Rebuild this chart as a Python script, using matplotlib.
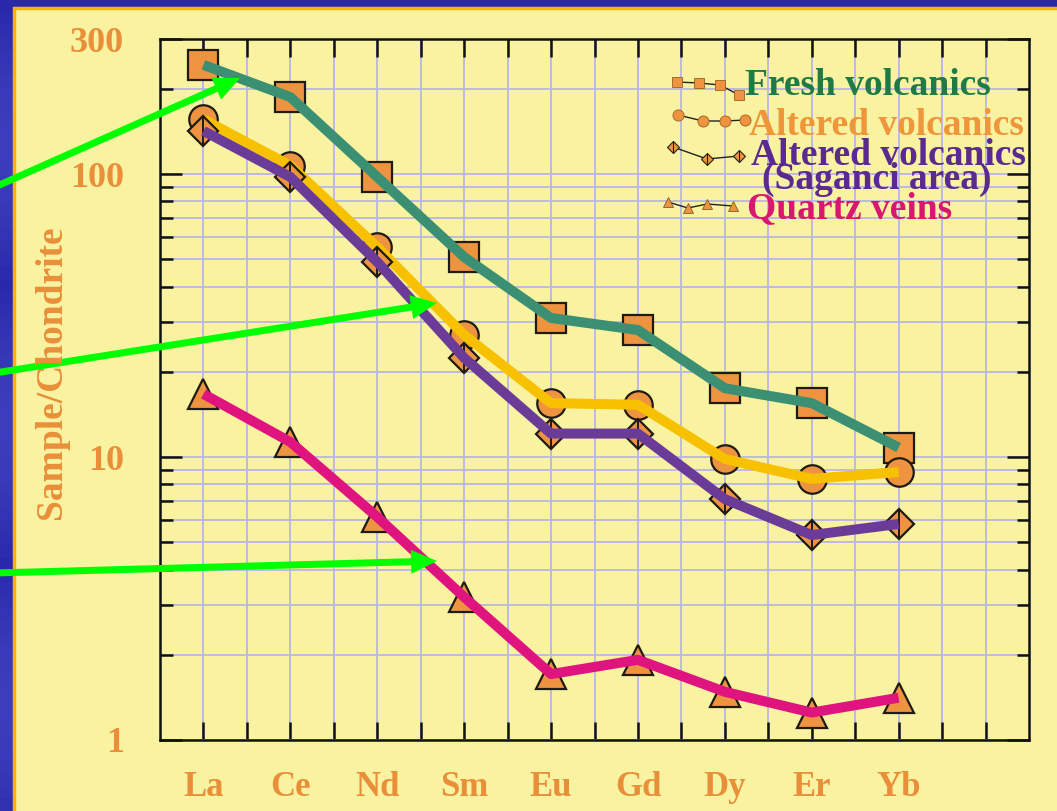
import numpy as np
import matplotlib
matplotlib.use("Agg")
import matplotlib.pyplot as plt
from matplotlib.patches import Rectangle, FancyArrow
from matplotlib.ticker import LogLocator, NullFormatter, FixedLocator, FixedFormatter

# ---------------- data ----------------
elements = ["La", "Ce", "Nd", "Sm", "Eu", "Gd", "Dy", "Er", "Yb"]
fresh_volcanics = [243, 187, 97.6, 50.9, 31.0, 28.1, 17.5, 15.5, 10.8]
altered_volcanics = [156, 107, 55.2, 27.0, 15.5, 15.3, 9.84, 8.37, 8.85]
altered_saganci = [142, 97.6, 48.9, 22.4, 12.1, 12.1, 7.1, 5.3, 5.8]
quartz_veins = [16.7, 11.3, 6.14, 3.2, 1.71, 1.92, 1.48, 1.25, 1.41]
y_tick_values = [1, 10, 100, 300]
y_tick_labels = ["1", "10", "100", "300"]

# ---------------- style ----------------
W, H = 1057, 811
SERIF = ["Liberation Serif", "DejaVu Serif"]
LABEL_ORANGE = "#E98F3A"
MARKER_FACE = "#EE9440"
EDGE = "#1E1A14"
GRID = "#B9B6E6"
PANEL = "#F9F2A0"

fig = plt.figure(figsize=(W / 100, H / 100), dpi=100)

# background (pixel coordinate axes)
bg = fig.add_axes([0, 0, 1, 1], zorder=-5)
bg.set_xlim(0, W)
bg.set_ylim(H, 0)
bg.axis("off")
grad = np.linspace(0, 1, 64).reshape(-1, 1)
bg.imshow(np.dstack([0.16 + 0.08 * np.abs(np.sin(grad * 9)),
                     0.16 + 0.08 * np.abs(np.sin(grad * 9)),
                     0.66 + 0.08 * np.abs(np.sin(grad * 9))]),
          extent=[0, W, H, 0], aspect="auto", zorder=0)
bg.add_patch(Rectangle((14, 8), W, H, facecolor=PANEL,
                       edgecolor="#F2B705", linewidth=2.5, zorder=1))

# ---------------- main axes ----------------
ax = fig.add_axes([160 / W, 71 / H, 869 / W, 701 / H])
ax.set_facecolor("none")
ax.set_yscale("log")
ax.set_ylim(1, 300)
ax.set_xlim(0, 20)

x = np.arange(len(elements)) * 2 + 1

series = [
    (fresh_volcanics, "s", 21.5, "#3B8F72"),
    (altered_volcanics, "o", 20.5, "#F7C100"),
    (altered_saganci, "D", 15, "#6A3C98"),
    (quartz_veins, "^", 21.5, "#E0147F"),
]
z = 3
for vals, mk, ms, col in series:
    ax.plot(x, vals, linestyle="none", marker=mk, markersize=ms,
            markerfacecolor=MARKER_FACE, markeredgecolor=EDGE,
            markeredgewidth=1.6, zorder=z)
    if mk == "D":
        ax.plot(x, vals, linestyle="none", marker="|", markersize=21,
                markeredgecolor=EDGE, markeredgewidth=1.4, zorder=z)
    ax.plot(x, vals, color=col, linewidth=7.2, solid_capstyle="butt",
            solid_joinstyle="round", zorder=z + 1)
    z += 2

# ticks
ax.xaxis.set_major_locator(FixedLocator(x))
ax.xaxis.set_major_formatter(FixedFormatter(elements))
ax.xaxis.set_minor_locator(FixedLocator([v for v in range(1, 20) if v not in x]))
ax.yaxis.set_major_locator(FixedLocator(y_tick_values))
ax.yaxis.set_major_formatter(FixedFormatter(y_tick_labels))
ax.yaxis.set_minor_locator(LogLocator(base=10, subs=np.arange(2, 10)))
ax.yaxis.set_minor_formatter(NullFormatter())

ax.tick_params(axis="x", which="both", direction="in", length=13, width=1.8,
               top=True, bottom=True, color="#111111", pad=22,
               labelcolor=LABEL_ORANGE, labelsize=25)
ax.tick_params(axis="y", which="major", direction="in", length=16, width=1.8,
               left=True, right=True, color="#111111", pad=26,
               labelcolor=LABEL_ORANGE, labelsize=26)
ax.tick_params(axis="y", which="minor", direction="in", length=9, width=1.8,
               left=True, right=True, color="#111111")
for lab in ax.get_xticklabels() + ax.get_yticklabels():
    lab.set_fontfamily(SERIF)
    lab.set_fontweight("bold")

ax.grid(True, which="both", color=GRID, linewidth=1.3, zorder=1)
ax.set_axisbelow(True)
for s in ax.spines.values():
    s.set_linewidth(1.8)
    s.set_color("#111111")

# ---------------- overlay (pixel coordinates) ----------------
ov = fig.add_axes([0, 0, 1, 1], zorder=10)
ov.set_xlim(0, W)
ov.set_ylim(H, 0)
ov.axis("off")
ov.patch.set_visible(False)

ov.text(52, 372, "Sample/Chondrite", rotation=90, ha="center", va="center",
        fontsize=27, fontweight="bold", family=SERIF, color=LABEL_ORANGE)

# legend samples
ov.plot([677, 699, 720, 739], [82, 83, 85, 95], color="#222222", lw=1.0,
        marker="s", ms=7, mfc=MARKER_FACE, mec="#A06020", mew=0.6)
ov.plot([678, 703, 725, 745], [115, 121, 121, 120], color="#222222", lw=1.0,
        marker="o", ms=8, mfc=MARKER_FACE, mec="#A06020", mew=0.6)
ov.plot([673, 707, 739], [147, 159, 156], color="#222222", lw=1.0,
        marker="D", ms=6, mfc=MARKER_FACE, mec="#222222", mew=0.8)
ov.plot([673, 707, 739], [147, 159, 156], linestyle="none",
        marker="|", ms=8, mec="#222222", mew=0.8)
ov.plot([668, 688, 707, 733], [202, 208, 204, 206], color="#222222", lw=1.0,
        marker="^", ms=7, mfc=MARKER_FACE, mec="#806020", mew=0.6)

leg_kw = dict(fontsize=27, fontweight="bold", family=SERIF, ha="left", va="baseline")
ov.text(745, 95, "Fresh volcanics", color="#1F7A45", **leg_kw)
ov.text(749, 135, "Altered volcanics", color="#F0963A", **leg_kw)
ov.text(751, 165, "Altered volcanics", color="#5A2A90", **leg_kw)
t = ov.text(762, 189, "(Saganci area)", color="#5A2A90", **leg_kw)
t.set_clip_path(Rectangle((700, 167), 360, 60, transform=ov.transData))
ov.text(747, 218, "Quartz veins", color="#D81870", **leg_kw)

# green arrows
for (x0, y0, x1, y1) in [(-5, 187, 240, 78), (-5, 373, 437, 303), (-5, 573, 437, 561)]:
    ov.add_patch(FancyArrow(x0, y0, x1 - x0, y1 - y0, width=7, head_width=24,
                            head_length=26, length_includes_head=True,
                            color="#00FF00", linewidth=0))

fig.savefig("out.png", dpi=100)
